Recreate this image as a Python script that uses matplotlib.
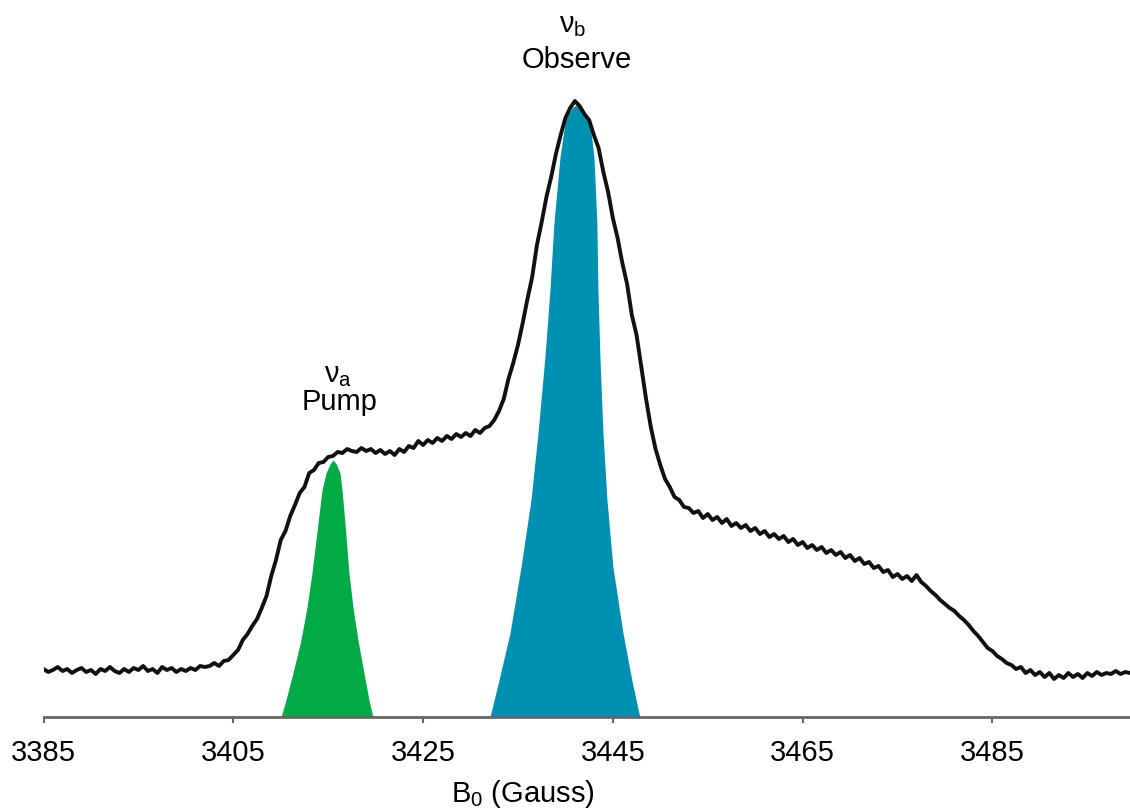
import numpy as np
import matplotlib
matplotlib.use("Agg")
import matplotlib.pyplot as plt

plt.rcParams['font.family'] = ['Liberation Sans', 'DejaVu Sans']
plt.rcParams['mathtext.fontset'] = 'custom'
plt.rcParams['mathtext.rm'] = 'Liberation Sans'

# EPR spectrum, sampled every 0.5 G from 3385 G (arbitrary intensity units)
field_start = 3385.0
field_step = 0.5
intensity = [
    48, 45, 47, 50, 46, 48, 44, 47, 49, 45,
    47, 43, 48, 46, 50, 46, 44, 48, 45, 49,
    47, 51, 46, 48, 44, 50, 47, 49, 45, 48,
    46, 49, 47, 51, 50,
    51, 54, 51, 56, 57, 62, 67, 77, 83, 91,
    98, 109, 121, 141, 157, 177, 186, 201, 212, 224,
    230, 244, 247, 254, 255, 260, 261, 265, 264, 268,
    266,
    265, 269, 266, 268, 264, 267, 263, 266, 262, 268,
    265, 271, 269, 276, 272, 277, 274, 279, 276, 281,
    278, 283, 280, 284, 281, 287, 284, 289, 291, 297,
    306, 318, 338, 354, 372, 394, 418, 440, 472, 495,
    520, 540, 563, 582, 599, 609, 616, 611, 603,
    597, 582, 569, 545, 525, 499, 479, 454, 433, 402,
    382, 350, 318, 290, 268, 252, 238, 230, 220, 217,
    210, 209,
    204, 206, 199, 203, 197, 200, 194, 198, 191, 194,
    189, 192, 186, 189, 183, 186, 180, 183, 178, 181,
    175, 178, 172, 175, 169, 172, 167, 170, 164, 167,
    162, 165, 159, 162, 156, 159, 153, 155, 149, 151,
    145, 147, 140, 143, 138, 141, 136, 142, 135, 131,
    126, 122, 117, 113, 109, 106, 101, 97, 92, 86,
    81, 75, 69, 66, 61, 58, 54, 52, 48, 50,
    44, 47, 42, 45, 40, 44, 38, 42, 39, 44,
    40, 43, 39, 44, 41, 45, 42, 44, 43, 46,
    43, 45, 44,
]

# pump pulse excitation profile (outline)
pump_field = [3410.03, 3410.55, 3411.29, 3412.13, 3412.77, 3413.29, 3413.93,
              3414.35, 3414.77, 3415.2, 3415.51, 3415.85, 3416.25, 3416.46,
              3416.77, 3417.19, 3417.61, 3418.14, 3418.77, 3419.30, 3419.72]
pump_height = [0, 17, 44, 77, 110, 144, 194, 227, 244, 253, 257, 253, 244, 227,
               194, 144, 110, 77, 44, 17, 0]

# observe pulse excitation profile (outline)
obs_field = [3432.05, 3433.0, 3434.16, 3435.32, 3436.37, 3437.11, 3437.84,
             3438.37, 3438.79, 3439.43, 3439.95, 3440.27, 3440.7, 3441.1,
             3441.6, 3442.16, 3442.59, 3443.01, 3443.32, 3443.43, 3443.64,
             3443.96, 3444.38, 3445.01, 3446.07, 3447.0, 3447.84]
obs_height = [0, 37, 84, 150, 217, 284, 360, 427, 494, 560, 594, 602, 609, 612,
              609, 602, 594, 560, 494, 427, 360, 284, 217, 150, 84, 37, 0]

ticks = [3385, 3405, 3425, 3445, 3465, 3485]

field = field_start + field_step * np.arange(len(intensity))

fig = plt.figure(figsize=(11.3, 8.11), dpi=100)
ax = fig.add_axes([0.0385, 0.1159, 0.9615, 0.8841])

ax.fill_between(pump_field, 0, pump_height, color='#00aa45', lw=0, zorder=1)
ax.fill_between(obs_field, 0, obs_height, color='#0090b2', lw=0, zorder=1)
ax.plot(field, intensity, color='#111111', lw=2.8, zorder=3)

ax.text(3416.0, 335, 'ν$_\\mathregular{a}$', ha='center', va='baseline', fontsize=21)
ax.text(3416.2, 307, 'Pump', ha='center', va='baseline', fontsize=21)
ax.text(3440.8, 685, 'ν$_\\mathregular{b}$', ha='center', va='baseline', fontsize=21)
ax.text(3441.2, 649, 'Observe', ha='center', va='baseline', fontsize=21)

ax.set_xlim(3385, 3499.5)
ax.set_ylim(0, 717)
ax.set_xticks(ticks)
ax.set_yticks([])
for s in ['top', 'right', 'left']:
    ax.spines[s].set_visible(False)
ax.spines['bottom'].set_color('#666666')
ax.spines['bottom'].set_linewidth(2.0)
ax.tick_params(axis='x', direction='out', length=4, width=1.5, color='#666666',
               labelsize=21, pad=12)
ax.set_xlabel('B$_\\mathregular{0}$ (Gauss)', fontsize=21, labelpad=2)
ax.xaxis.set_label_coords(0.441, -0.085)

plt.savefig("out.png", dpi=100)
plt.close()
